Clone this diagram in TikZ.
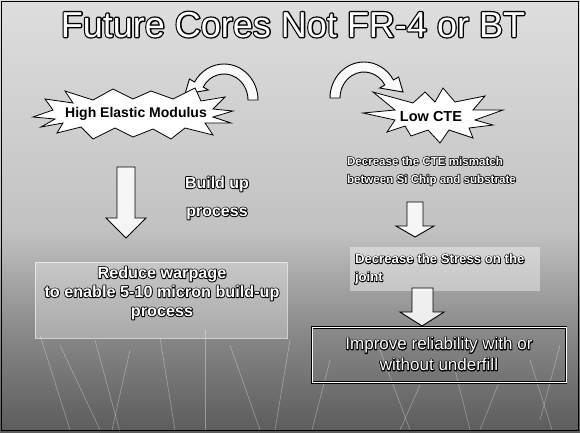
\documentclass[tikz,border=0pt]{standalone}
\usepackage{fontspec}
\setmainfont{Liberation Sans}
% outlined text: black stroked copy behind (render mode 1), white text on top
\newcommand\olt[2][1.6]{{\leavevmode\rlap{\color{black}\special{pdf:literal direct 1 Tr #1 w 1 j}#2\special{pdf:literal direct 0 Tr}}{\color{white}#2}}}
\newcommand\fs[2]{\fontsize{#1}{#2}\selectfont}
\begin{document}
\begin{tikzpicture}[x=1pt,y=-1pt,
  burst/.style={draw=black, line width=0.8pt, fill=white},
  blockarrow/.style={draw=black, line width=0.9pt, fill=white, fill opacity=0.85},
  curvearrow/.style={draw=black, line width=0.9pt, fill=white, fill opacity=0.9},
  txt/.style={inner sep=0pt, outer sep=0pt},
  scratch/.style={draw=white, line width=0.6pt, opacity=0.35}]
\useasboundingbox (0,0) rectangle (580,432);
% background
\shade[top color=black!13, bottom color=black!24] (0,0) rectangle (580,230);
\shade[top color=black!24, bottom color=black!46] (0,230) rectangle (580,330);
\shade[top color=black!46, bottom color=black!64] (0,330) rectangle (580,432);
\foreach \a/\b/\c/\d in {40/335/70/430, 60/345/100/430, 95/340/120/432, 130/350/112/430, 160/338/175/430, 205/330/205/430,
  230/345/260/430, 290/340/275/430, 330/360/312/430, 380/350/410/430, 420/385/400/430, 455/370/470/430, 500/380/480/430, 530/360/552/430, 560/345/540/420}
  \draw[scratch] (\a,\b) -- (\c,\d);
% title
\node[txt, anchor=base] (title) at (293,37) {\fs{36}{40}\olt[2.6]{Future Cores Not FR-4 or BT}};
% curved arrows
\begin{scope}[shift={(224,100)}]
\draw[curvearrow] (34,0) arc[start angle=0,end angle=-150,x radius=34,y radius=36]
  -- (-34.6,-21) -- (-39,-6) -- (-15.6,-10) -- (-20.8,-13)
  arc[start angle=-150,end angle=0,x radius=24,y radius=26] -- cycle;
\end{scope}
\begin{scope}[shift={(364,98)}, xscale=-1]
\draw[curvearrow] (34,0) arc[start angle=0,end angle=-150,x radius=34,y radius=36]
  -- (-34.6,-21) -- (-39,-6) -- (-15.6,-10) -- (-20.8,-13)
  arc[start angle=-150,end angle=0,x radius=24,y radius=26] -- cycle;
\end{scope}
% bursts
\draw[burst, shift={(133,113)}] (-100,4) -- (-80,-3) -- (-88,-14) -- (-60,-10) -- (-68,-22) -- (-40,-13)
  -- (-20,-24) -- (0,-14) -- (18,-22) -- (40,-14) -- (62,-25) -- (68,-12) -- (92,-16) -- (80,-4)
  -- (100,-2) -- (80,4) -- (98,10) -- (72,10) -- (80,22) -- (52,15) -- (38,26) -- (20,16) -- (0,24)
  -- (-18,15) -- (-40,26) -- (-52,14) -- (-76,20) -- (-70,10) -- (-92,14) -- (-78,6) -- cycle;
\node[txt, font=\fs{14}{16}\bfseries] (hem) at (136,114) {High Elastic Modulus};
\draw[burst, shift={(433,116)}] (-70,-3) -- (-38,-6) -- (-60,-24) -- (-20,-13) -- (-8,-24) -- (2,-14)
  -- (10,-28) -- (22,-14) -- (52,-20) -- (40,-6) -- (70,-6) -- (42,4) -- (60,9) -- (36,12) -- (40,22)
  -- (16,14) -- (7,27) -- (-5,14) -- (-22,20) -- (-28,10) -- (-46,16) -- (-38,4) -- cycle;
\node[txt, font=\fs{14.5}{16}\bfseries] (cte) at (431,117) {Low CTE};
% right column text
\node[txt, anchor=west, align=left, font=\fs{11.6}{18}\bfseries] (mism) at (347,171)
  {\olt[1.5]{Decrease the CTE mismatch}\\\olt[1.5]{between Si Chip and substrate}};
% left arrow and text
\draw[blockarrow] (117,167) -- (135,167) -- (135,218) -- (146,218) -- (126,238) -- (106,218) -- (117,218) -- cycle;
\node[txt, align=center, font=\fs{16}{28}\bfseries] (bup) at (217,198)
  {\olt[1.8]{Build up}\\\olt[1.8]{process}};
% left box
\node[txt, draw=white, draw opacity=0.6, fill=white, fill opacity=0.3, text opacity=1,
  minimum width=252, minimum height=76] (warpbox) at (161,300) {};
\node[txt, align=center, font=\fs{16.2}{19}\bfseries] (warp) at (162,293)
  {\olt[1.8]{Reduce warpage}\\\olt[1.8]{to enable 5-10 micron build-up}\\\olt[1.8]{process}};
% right arrows and boxes
\draw[blockarrow] (407,202) -- (423,202) -- (423,226) -- (434,226) -- (415,237) -- (396,226) -- (407,226) -- cycle;
\node[txt, fill=white, fill opacity=0.4, minimum width=190, minimum height=44] (stressbox) at (445,269) {};
\node[txt, anchor=west, align=left, font=\fs{13.2}{18}\bfseries] (stress) at (355,269)
  {\olt[1.5]{Decrease the Stress on the}\\\olt[1.5]{joint}};
\draw[blockarrow] (412,288) -- (433,288) -- (433,312) -- (444,312) -- (422,326) -- (400,312) -- (412,312) -- cycle;
\node[txt, draw=black, double=white, double distance=0.9pt, line width=0.6pt,
  minimum width=254, minimum height=55] (relbox) at (439,355) {};
\node[txt, align=center, font=\fs{17}{21}] (rel) at (439,354)
  {\olt[1.8]{Improve reliability with or}\\\olt[1.8]{without underfill}};
% frame
\draw[black, line width=1.5pt] (1.5,1.5) rectangle (578.5,430.5);
\end{tikzpicture}
\end{document}
